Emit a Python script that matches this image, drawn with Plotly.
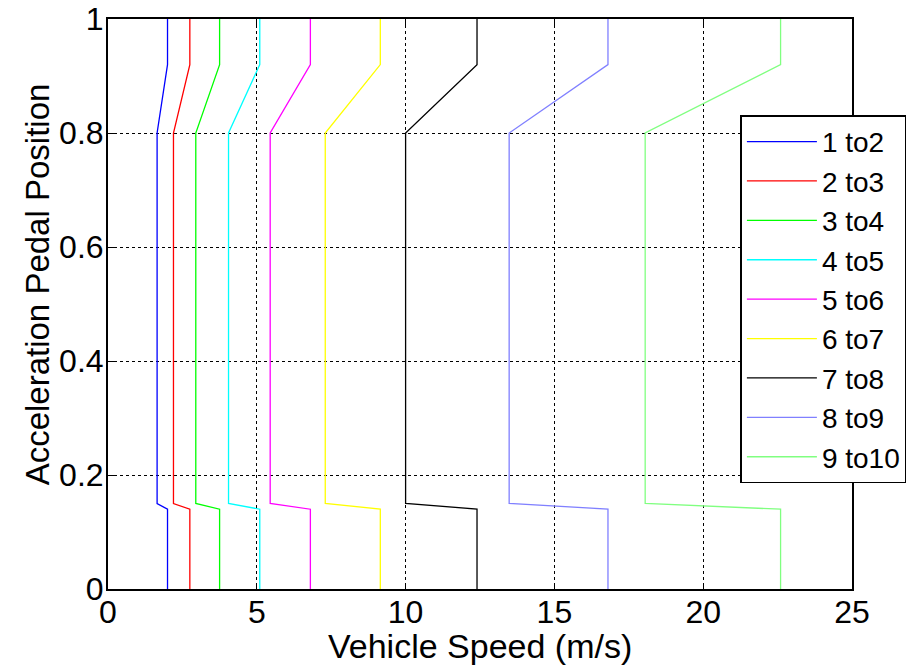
import plotly.graph_objects as go

pedal = [0, 0.14, 0.15, 0.8, 0.92, 1.0]
names = ["1 to2", "2 to3", "3 to4", "4 to5", "5 to6", "6 to7", "7 to8", "8 to9", "9 to10"]
speed_high = [2.0, 2.75, 3.75, 5.1, 6.8, 9.15, 12.4, 16.8, 22.6]
speed_low = [1.65, 2.2, 2.95, 4.05, 5.45, 7.3, 10.0, 13.48, 18.05]
colors = ["#0000FF", "#FF0000", "#00FF00", "#00FFFF", "#FF00FF", "#FFFF00",
          "#000000", "#8080FF", "#80FF80"]
x_title = "Vehicle Speed (m/s)"
y_title = "Acceleration Pedal Position"

fig = go.Figure()
for n, hi, lo, c in zip(names, speed_high, speed_low, colors):
    fig.add_trace(go.Scatter(
        x=[hi, hi, lo, lo, hi, hi], y=pedal, mode="lines", name=n,
        line=dict(color=c, width=1.3)))

font = "Arial, Liberation Sans, sans-serif"
axis_common = dict(
    showgrid=True, gridcolor="black", griddash="dot", gridwidth=1,
    showline=True, linecolor="black", linewidth=2, mirror="allticks",
    ticks="inside", ticklen=6, tickcolor="black", zeroline=False,
    automargin=False, ticklabeloverflow="allow",
    tickfont=dict(family=font, size=32, color="black"),
)
fig.update_layout(
    width=918, height=671,
    margin=dict(l=108, r=64, t=19, b=82),
    paper_bgcolor="white", plot_bgcolor="white",
    font=dict(family=font, color="black"),
    xaxis=dict(range=[0, 25], tickvals=[0, 5, 10, 15, 20, 25],
               ticklabelstandoff=-6, **axis_common),
    yaxis=dict(range=[0, 1], tickvals=[0, 0.2, 0.4, 0.6, 0.8, 1],
               ticktext=["0", "0.2", "0.4", "0.6", "0.8", "1"],
               ticklabelstandoff=-4, **axis_common),
    legend=dict(x=0.85, y=0.831, xanchor="left", yanchor="top",
                bgcolor="white", bordercolor="black", borderwidth=1.5,
                font=dict(family=font, size=28, color="black"),
                tracegroupgap=0, itemwidth=70),
    showlegend=True,
    hovermode=False,
    annotations=[
        dict(text=x_title, xref="paper", yref="paper", x=0.5, y=-0.1,
             xanchor="center", yanchor="middle", showarrow=False,
             font=dict(family=font, size=34, color="black")),
        dict(text=y_title, xref="paper", yref="paper", x=-0.095, y=0.535,
             xanchor="center", yanchor="middle", showarrow=False, textangle=-90,
             font=dict(family=font, size=33, color="black")),
    ],
)
fig.write_html("out.html", config={"displayModeBar": False},
               post_script="document.body.style.margin='0px';")
